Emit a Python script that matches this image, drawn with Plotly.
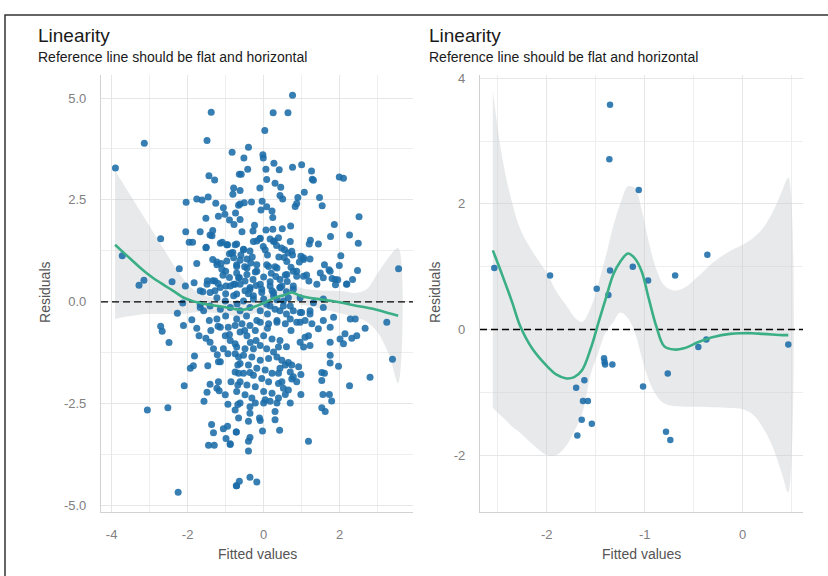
import plotly.graph_objects as go

# ---------------- data ----------------
# Left panel: residuals vs fitted (large model)
left_pts_a = [(-1.38,4.65),(-3.14,3.89),(-1.49,3.96),(-3.90,3.28),(-0.83,3.67),(-1.44,3.09),(-1.29,2.99),(-0.64,3.13),
    (-0.79,2.79),(-0.81,2.64),(-2.04,2.44),(-1.76,2.52),(-1.62,2.50),(-1.46,2.57),(-1.26,2.42),(-1.06,2.31),(-1.19,2.10),
    (-1.02,2.15),(-1.52,2.05),(-0.74,2.18),(-0.90,2.01),(-0.78,1.90),(-0.66,2.37),(-2.05,1.72),(-1.67,1.72),(-1.34,1.75),
    (-1.36,1.62),(-2.71,1.55),(-1.96,1.46),(-1.87,1.46),(-1.52,1.33),(-1.09,1.46),(-0.95,1.40),(-0.71,1.42),(-0.81,1.21),
    (-3.72,1.13),(-1.34,1.04),(-1.23,0.98),(-1.12,0.94),(-1.76,0.94),(-0.79,1.08),(-1.00,0.75),(-0.71,0.87),(-2.22,0.81),
    (-3.15,0.53),(-3.28,0.41),(-2.41,0.49),(-2.06,0.39),(-1.83,0.47),(-1.48,0.52),(-1.34,0.52),(-1.07,0.65),(-0.99,0.39),
    (-0.79,0.43),(-1.60,0.25),(-1.28,0.27),(-0.66,0.59)]
left_pts_b = [(0.76,5.07),(0.25,4.64),(0.64,4.64),(0.03,4.20),(-0.40,3.79),(-0.02,3.61),(-0.01,3.53),(-0.52,3.53),
    (0.27,3.40),(0.76,3.30),(1.00,3.36),(1.26,3.21),(0.06,3.25),(0.41,3.24),(-0.42,3.25),(-0.59,3.13),(1.28,3.01),(1.31,2.98),
    (1.99,3.06),(2.10,3.03),(0.08,3.00),(0.30,2.91),(-0.10,2.79),(0.45,2.81),(-0.62,2.73),(1.07,2.69),(0.43,2.61),(0.50,2.52),
    (0.90,2.56),(1.47,2.56),(1.54,2.36),(0.83,2.34),(0.87,2.41),(-0.04,2.47),(-0.32,2.45),(-0.51,2.43),(-0.62,2.40),(0.08,2.33),
    (-0.07,2.25),(0.22,2.23),(0.24,2.07),(-0.62,2.02),(2.51,2.09),(1.86,1.90),(-0.24,1.88),(0.71,1.86),(-0.57,1.72),(-0.28,1.74),
    (0.06,1.76),(0.24,1.78),(0.49,1.79),(2.26,1.64),(1.23,1.51),(1.20,1.42),(1.76,1.60),(1.44,1.42),(2.49,1.44),(-0.10,1.55),
    (-0.18,1.49),(0.17,1.54),(0.28,1.49),(0.39,1.57),(0.70,1.48),(-0.01,1.36),(0.04,1.28),(0.34,1.38),(0.47,1.32),(0.55,1.28),
    (0.64,1.20),(0.76,1.15),(0.98,1.12),(1.05,1.04),(1.22,1.05),(2.03,1.13),(-0.85,1.20),(-0.53,1.29),(-0.36,1.25),(-0.62,1.02),
    (-0.44,1.05),(-0.34,0.95),(-0.18,0.91),(0.13,0.87),(0.30,0.86),(0.54,1.09),(0.61,0.99),(0.72,0.85),(0.94,0.98),(0.78,0.75),
    (1.49,0.71),(1.60,0.91),(1.72,0.79),(1.80,0.57),(1.99,0.89),(1.88,0.55),(1.95,0.54),(1.89,0.42),(2.18,0.43),(2.34,0.55),
    (2.47,0.77),(1.13,0.66),(1.05,0.63),(0.87,0.63),(0.57,0.66),(0.43,0.55),(0.17,0.49),(0.00,0.61),(-0.22,0.73),(-0.44,0.83),
    (-0.71,0.71),(-0.64,0.60),(-0.49,0.51),(-0.75,0.43),(-0.36,0.35),(-0.05,0.31),(0.26,0.23),(0.78,0.31),(0.48,0.39),(1.19,0.51),
    (1.40,0.43),(1.57,0.59)]
left_pts_c = [(-1.41,1.64),(-1.51,1.34),(-1.14,1.44),(-0.97,1.40),(-0.75,1.40),(-0.53,1.28),(-0.27,1.48),(-0.09,1.56),
    (0.26,1.48),(0.74,1.24),(1.05,1.08),(3.55,0.81),(2.19,0.44),(1.75,0.75),(0.87,0.75),(0.61,0.67),(0.35,0.83),(0.08,0.91),
    (-0.18,0.75),(-0.44,0.67),(-0.71,0.91),(-0.97,1.00),(-1.23,0.91),(-1.28,0.51),(-1.49,0.43),(-1.67,0.27),(-1.41,0.23),
    (-1.14,0.35),(-0.88,0.39),(-0.62,0.43),(-0.36,0.31),(-0.09,0.43),(0.17,0.39),(0.43,0.35),(0.78,0.39),(-1.23,0.10),
    (-1.01,0.02),(-0.79,0.15),(-0.53,0.02),(-0.27,0.15),(0.00,0.07),(0.26,0.15),(0.52,0.02),(0.96,0.10),(1.31,-0.02),(1.57,0.07),
    (-1.41,-0.10),(-1.14,-0.18),(-0.88,-0.14),(-0.62,-0.22),(-0.36,-0.14),(-0.09,-0.22),(0.17,-0.10),(0.43,-0.22),(0.70,-0.10),
    (0.96,-0.26),(1.22,-0.22),(-1.67,-0.14),(-0.71,-0.42),(-0.18,-0.46),(0.35,-0.46),(0.96,-0.50)]
left_pts_d = [(-0.71,0.19),(-0.49,0.27),(-0.27,0.07),(-0.05,0.23),(0.22,0.27),(0.43,0.35),(0.65,0.10),(0.08,-0.06),
    (0.30,-0.18),(0.52,-0.10),(0.78,-0.22),(1.00,-0.26),(1.22,-0.30),(1.57,-0.14),(2.28,-0.42),(2.41,-0.42),(2.67,-0.65),
    (3.24,-0.50),(1.84,-0.38),(1.57,-0.46),(1.75,-0.62),(1.44,-0.66),(1.27,-0.54),(1.09,-0.46),(0.87,-0.50),(0.70,-0.42),
    (0.57,-0.54),(0.35,-0.50),(0.13,-0.54),(-0.09,-0.50),(-0.36,-0.58),(-0.57,-0.54),(-0.75,-0.58),(1.18,-0.83),(1.09,-0.87),
    (0.96,-0.99),(1.05,-1.11),(1.22,-1.07),(2.01,-0.91),(2.14,-0.78),(2.32,-0.89),(2.45,-0.83),(2.10,-1.03),(1.75,-0.99),
    (1.75,-1.31),(1.75,-1.50),(1.97,-1.58),(2.80,-1.85),(2.26,-2.06),(1.53,-1.73),(1.60,-1.75),(1.53,-1.93),(1.56,-2.27),
    (1.73,-2.27),(1.79,-2.43),(1.53,-2.60),(1.62,-2.69),(1.18,-3.42),(0.98,-2.27),(0.74,-1.89),(0.78,-1.84),(0.98,-1.78),
    (0.92,-1.59),(0.74,-1.55),(0.57,-1.55),(0.43,-1.63),(0.39,-1.75),(0.48,-1.96),(0.39,-2.00),(0.52,-2.12),(0.57,-2.27),
    (0.39,-2.36),(0.70,-2.48),(0.22,-2.24),(0.04,-2.40),(0.17,-2.44),(0.00,-2.48),(-0.22,-2.48),(-0.36,-2.57),(-0.62,-2.48),
    (-0.75,-2.65),(0.30,-2.69),(0.30,-2.89),(-0.11,-2.85),(-0.09,-2.91),(-0.40,-2.93),(0.42,-3.15),(-0.03,-3.17),(-0.72,-3.19),
    (-0.36,-3.33),(-0.40,-3.42),(-0.88,-3.50),(-0.40,-3.66),(-0.36,-4.30),(-0.18,-4.42),(-0.64,-4.40),(-0.71,-4.51),
    (-0.62,-0.74),(-0.44,-0.83),(-0.22,-0.70),(0.00,-0.83),(0.22,-0.91),(0.43,-0.95),(0.39,-1.11),(0.26,-1.23),(0.08,-1.15),
    (-0.09,-1.07),(-0.27,-1.15),(-0.49,-1.15),(-0.71,-1.11),(-0.75,-1.27),(-0.53,-1.31),(-0.31,-1.35),(-0.09,-1.43),(0.13,-1.39),
    (0.35,-1.35),(0.48,-1.43),(0.65,-1.49),(-0.62,-1.51),(-0.40,-1.55),(-0.18,-1.63),(0.04,-1.67),(0.22,-1.75),(-0.75,-1.72),
    (-0.53,-1.75),(-0.36,-1.73),(-0.27,-1.80),(-0.05,-1.88),(0.13,-1.96),(-0.62,-1.96),(-0.44,-2.04),(-0.22,-2.08),(0.00,-2.20),
    (-0.71,-2.20),(-0.49,-2.28),(-0.31,-2.36),(0.65,-2.16),(0.87,-1.96),(0.70,-1.72),(-0.66,-2.85),(-0.36,-2.73),(0.35,-2.48),
    (3.39,-1.41)]
left_pts_e = [(-2.27,-0.28),(-2.13,-0.03),(-2.71,-0.60),(-2.67,-0.72),(-2.49,-1.00),(-2.11,-0.58),(-1.89,-0.44),
    (-1.76,-0.65),(-1.70,-0.83),(-1.52,-0.89),(-1.43,-0.46),(-1.23,-0.42),(-1.39,-0.70),(-1.41,-0.99),(-1.32,-1.15),
    (-1.14,-0.62),(-1.01,-0.83),(-0.93,-0.62),(-0.88,-0.95),(-1.06,-1.15),(-0.94,-1.27),(-0.75,-1.03),(-1.82,-1.33),
    (-1.85,-1.57),(-1.93,-1.63),(-1.47,-1.57),(-1.19,-1.47),(-1.14,-1.47),(-0.68,-1.55),(-2.09,-2.06),(-1.41,-2.02),
    (-1.19,-1.96),(-1.49,-2.22),(-1.23,-2.12),(-1.17,-2.18),(-1.01,-2.28),(-0.86,-1.96),(-1.57,-2.44),(-0.94,-2.51),
    (-0.68,-2.52),(-3.06,-2.65),(-2.52,-2.60),(-1.37,-3.01),(-1.32,-3.21),(-1.06,-3.11),(-0.95,-3.05),(-0.99,-3.35),
    (-0.88,-3.48),(-0.72,-3.19),(-1.45,-3.52),(-1.30,-3.52),(-2.25,-4.67),(-0.72,-4.51),(-0.68,-2.04),(-0.66,-1.75),
    (-0.66,-1.35),(-1.58,-0.22),(-1.67,-0.06)]
# overlapping points in the dense core (estimated)
left_pts_f = [(-0.90,1.18),(-0.60,1.15),(-0.30,1.10),(0.10,1.15),(0.40,1.10),(-1.10,0.80),(-0.50,0.86),(0.20,0.70),
    (0.62,0.50),(-0.90,0.60),(-0.28,0.55),(0.32,0.62),(-1.20,0.45),(-0.20,0.40),(0.60,0.25),(-1.00,0.20),(-0.40,0.20),
    (0.35,0.05),(-0.70,-0.05),(0.10,-0.30),(-1.00,-0.35),(-0.45,-0.35),(0.60,-0.30),(-1.20,-0.60),(-0.50,-0.70),
    (0.10,-0.65),(0.72,-0.70),(-0.90,-0.80),(-0.20,-0.95),(0.60,-1.10),(-1.22,-1.30),(-0.35,-1.00)]

# Left panel loess smooth and its confidence band
left_smooth_x = [-3.91,-3.7,-3.5,-3.3,-3.1,-2.9,-2.7,-2.5,-2.3,-2.1,-1.9,-1.7,-1.5,-1.2,-0.9,-0.6,-0.3,0.0,0.3,0.55,0.75,0.95,1.2,1.5,1.8,2.1,2.4,2.7,3.0,3.3,3.54]
left_smooth_y = [1.40,1.22,1.05,0.88,0.72,0.58,0.46,0.34,0.22,0.10,0.03,-0.02,-0.06,-0.10,-0.15,-0.20,-0.14,-0.03,0.10,0.17,0.23,0.15,0.10,0.06,0.02,-0.03,-0.09,-0.14,-0.20,-0.28,-0.34]
left_smooth_hi = [3.22,2.90,2.60,2.30,2.00,1.70,1.40,1.10,0.80,0.55,0.34,0.21,0.14,0.08,0.02,-0.03,0.02,0.13,0.27,0.34,0.41,0.35,0.30,0.28,0.27,0.26,0.22,0.30,0.70,1.10,1.32]
left_smooth_lo = [-0.42,-0.38,-0.35,-0.32,-0.30,-0.30,-0.30,-0.30,-0.30,-0.30,-0.27,-0.24,-0.26,-0.28,-0.32,-0.37,-0.30,-0.19,-0.07,0.00,0.05,-0.05,-0.10,-0.16,-0.23,-0.30,-0.38,-0.48,-0.75,-1.30,-2.00]

# Right panel: residuals vs fitted (small model)
right_x = [-2.535,-1.966,-1.354,-1.361,-1.061,-0.361,-1.49,-1.354,-1.371,-1.122,-0.966,-0.69,0.465,-0.453,-0.371,
           -1.415,-1.41,-1.405,-1.33,-0.765,-1.017,-1.616,-1.70,-1.63,-1.58,-1.643,-1.54,-1.688,-0.783,-0.739]
right_y = [0.98,0.858,3.58,2.71,2.22,1.19,0.65,0.94,0.55,1.00,0.78,0.86,-0.24,-0.28,-0.16,
           -0.46,-0.52,-0.56,-0.56,-0.70,-0.91,-0.81,-0.93,-1.14,-1.14,-1.44,-1.50,-1.69,-1.63,-1.76]

right_smooth_x = [-2.55,-2.45,-2.35,-2.27,-2.15,-2.0,-1.9,-1.8,-1.72,-1.64,-1.55,-1.47,-1.40,-1.32,-1.25,-1.17,-1.10,-1.03,-0.96,-0.88,-0.8,-0.7,-0.6,-0.45,-0.3,-0.13,0.0,0.1,0.2,0.3,0.4,0.465]
right_smooth_y = [1.26,0.85,0.42,0.05,-0.30,-0.58,-0.72,-0.78,-0.76,-0.65,-0.30,0.12,0.48,0.88,1.08,1.21,1.13,0.92,0.50,0.04,-0.27,-0.32,-0.30,-0.20,-0.12,-0.07,-0.06,-0.06,-0.07,-0.08,-0.09,-0.09]
right_smooth_hi = [3.80,2.70,2.00,1.60,1.25,0.90,0.60,0.38,0.20,0.12,0.35,0.75,1.15,1.65,2.00,2.28,2.25,1.90,1.40,0.95,0.70,0.62,0.66,0.85,1.07,1.25,1.35,1.45,1.60,1.85,2.20,2.42]
right_smooth_lo = [-1.25,-1.40,-1.55,-1.65,-1.82,-2.00,-2.00,-1.85,-1.62,-1.35,-0.70,-0.35,-0.05,0.12,0.27,0.18,-0.05,-0.45,-0.80,-1.05,-1.18,-1.22,-1.23,-1.23,-1.24,-1.25,-1.27,-1.35,-1.55,-1.85,-2.30,-2.60]

left_xticks = [-4, -2, 0, 2]
left_yticks = [-5.0, -2.5, 0.0, 2.5, 5.0]
right_xticks = [-2, -1, 0]
right_yticks = [-2, 0, 2, 4]

title_text = "Linearity"
subtitle_text = "Reference line should be flat and horizontal"
xlab = "Fitted values"
ylab = "Residuals"

# ---------------- figure ----------------
W, H = 828, 576
FONT = "Liberation Sans, Arial, Helvetica, sans-serif"
BLUE = "#1b6ca8"
GREEN = "#3aaf85"
BAND = "rgba(200,202,205,0.42)"
GRID = "#E6E6E6"
GRID_MINOR = "#EEEEEE"
AXLINE = "#D2D2D2"

left_pts = left_pts_a + left_pts_b + left_pts_c + left_pts_d + left_pts_e + left_pts_f
left_x = [p[0] for p in left_pts]
left_y = [p[1] for p in left_pts]

LX_RANGE = [-4.28, 3.93]
LY_RANGE = [-5.146, 5.558]
RX_RANGE = [-2.681, 0.615]
RY_RANGE = [-2.902, 4.049]

fig = go.Figure()

def add_panel(xa, ya, px_, py_, sx, sy, slo, shi, xr, msize):
    fig.add_trace(go.Scatter(x=sx + sx[::-1], y=shi + slo[::-1], fill="toself", fillcolor=BAND,
                             line=dict(width=0, shape="spline"), mode="lines", hoverinfo="skip",
                             showlegend=False, xaxis=xa, yaxis=ya))
    fig.add_trace(go.Scatter(x=px_, y=py_, mode="markers",
                             marker=dict(color=BLUE, size=msize, opacity=0.88, line=dict(width=0)),
                             showlegend=False, xaxis=xa, yaxis=ya))
    fig.add_trace(go.Scatter(x=xr, y=[0, 0], mode="lines",
                             line=dict(color="black", width=1.4, dash="7px,4px"),
                             hoverinfo="skip", showlegend=False, xaxis=xa, yaxis=ya))
    fig.add_trace(go.Scatter(x=sx, y=sy, mode="lines", line=dict(color=GREEN, width=2.6, shape="spline"),
                             hoverinfo="skip", showlegend=False, xaxis=xa, yaxis=ya))

add_panel("x", "y", left_x, left_y, left_smooth_x, left_smooth_y, left_smooth_lo, left_smooth_hi, LX_RANGE, 7)
add_panel("x2", "y2", right_x, right_y, right_smooth_x, right_smooth_y, right_smooth_lo, right_smooth_hi, RX_RANGE, 6.5)

ydom = [(H - 513) / H, (H - 72) / H]
common_axis = dict(showgrid=True, gridcolor=GRID, gridwidth=1, zeroline=False, showline=True,
                   linecolor=AXLINE, linewidth=1.2, ticks="", tickfont=dict(family=FONT, size=13, color="#808080"),
                   ticklabelstandoff=11)

fig.update_layout(
    width=W, height=H, margin=dict(l=0, r=0, t=0, b=0),
    paper_bgcolor="white", plot_bgcolor="white", showlegend=False,
    font=dict(family=FONT),
    xaxis=dict(domain=[101 / W, 413 / W], range=LX_RANGE, tickvals=left_xticks,
               ticktext=[str(v) for v in left_xticks], anchor="y",
               minor=dict(tickvals=[-3, -1, 1, 3], showgrid=True, gridcolor=GRID_MINOR, gridwidth=0.8), **common_axis),
    yaxis=dict(domain=ydom, range=LY_RANGE, tickvals=left_yticks,
               ticktext=[f"{v:.1f}" for v in left_yticks], anchor="x",
               minor=dict(tickvals=[-3.75, -1.25, 1.25, 3.75], showgrid=True, gridcolor=GRID_MINOR, gridwidth=0.8), **common_axis),
    xaxis2=dict(domain=[480 / W, 803 / W], range=RX_RANGE, tickvals=right_xticks,
                ticktext=[str(v) for v in right_xticks], anchor="y2",
                minor=dict(tickvals=[-2.5, -1.5, -0.5, 0.5], showgrid=True, gridcolor=GRID_MINOR, gridwidth=0.8), **common_axis),
    yaxis2=dict(domain=ydom, range=RY_RANGE, tickvals=right_yticks,
                ticktext=[str(v) for v in right_yticks], anchor="x2",
                minor=dict(tickvals=[-1, 1, 3], showgrid=True, gridcolor=GRID_MINOR, gridwidth=0.8), **common_axis),
)

def ann(text, xpx, ypx, size, color, xanchor="left", angle=0):
    fig.add_annotation(text=text, x=xpx / W, y=1 - ypx / H, xref="paper", yref="paper",
                       xanchor=xanchor, yanchor="middle", showarrow=False, textangle=angle,
                       font=dict(family=FONT, size=size, color=color))

for x0, xc, yc in [(36, 257, 45), (427, 641.5, 435)]:
    ann(title_text, x0, 32, 19, "#1a1a1a")
    ann(subtitle_text, x0, 54, 14, "#1a1a1a")
    ann(xlab, xc, 556, 14, "#555555", xanchor="center")
    ann(ylab, yc, 292, 14, "#555555", xanchor="center", angle=-90)

# outer frame
fig.add_shape(type="rect", xref="paper", yref="paper", x0=5 / W, x1=1.02, y0=-0.02, y1=1 - 11 / H,
              line=dict(color="#333333", width=1.5), fillcolor="rgba(0,0,0,0)", layer="above")

fig.write_html("out.html", config={"displayModeBar": False},
               post_script="document.body.style.margin='0';document.body.style.padding='0';")
